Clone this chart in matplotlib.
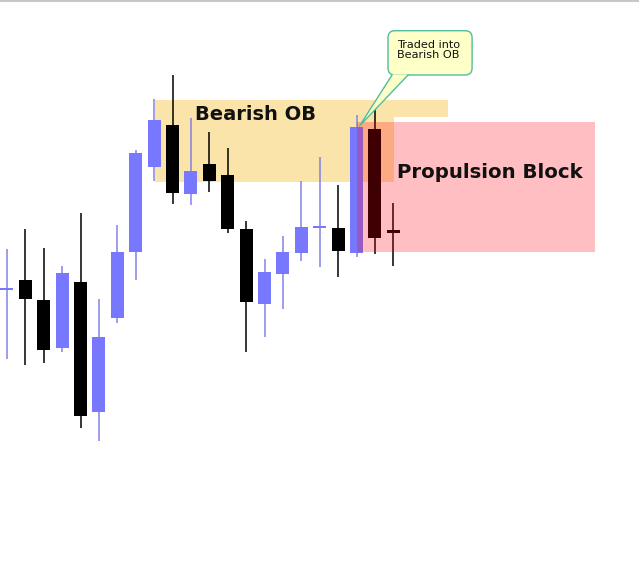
import matplotlib.pyplot as plt
from matplotlib.patches import Rectangle, FancyBboxPatch, Polygon

# candle data (price units), bar index = position
opens = [276, 286, 266, 218, 284, 154, 248, 314, 399, 441, 372, 402,
         391, 337, 262, 292, 313, 338, 338, 313, 437, 336]
highs = [317, 337, 318, 300, 353, 267, 341, 416, 467, 491, 448, 434,
         418, 345, 307, 330, 385, 409, 381, 451, 463, 363]
lows = [207, 201, 203, 214, 138, 125, 243, 286, 385, 362, 361, 374,
        333, 214, 229, 257, 305, 299, 289, 309, 312, 300]
closes = [277, 267, 216, 293, 150, 229, 314, 413, 446, 373, 395, 385,
          337, 264, 294, 314, 339, 340, 315, 439, 328, 333]

# zones: (x_start, x_end, price_low, price_high)
bearish_ob = (8.05, 21.04, 384, 466)
bearish_ob_top = (8.05, 23.96, 449, 466)
propulsion = (19.03, 31.96, 314, 444)

BULL = "#7878ff"
BULL_WICK = "#8282e6"
BEAR = "#000000"

fig = plt.figure(figsize=(6.39, 5.66), dpi=100)
ax = fig.add_axes([0, 0, 1, 1])
ax.set_xlim(-0.375, 34.35)
ax.set_ylim(0, 566)
ax.axis("off")

# thin grey line at the very top
fig.add_artist(plt.Line2D([0, 1], [0.999, 0.999], color="#c8c8c8", lw=1.5))

# bearish order block (behind candles)
for x0, x1, y0, y1 in (bearish_ob, bearish_ob_top):
    ax.add_patch(Rectangle((x0, y0), x1 - x0, y1 - y0, facecolor="#fae4aa",
                           edgecolor="none", zorder=1))

# candles
for i, (o, h, l, c) in enumerate(zip(opens, highs, lows, closes)):
    bull = c >= o
    body_col = BULL if bull else BEAR
    wick_col = BULL_WICK if bull else BEAR
    ax.vlines(i, l, h, color=wick_col, lw=1.1, zorder=2)
    lo, hi = min(o, c), max(o, c)
    ax.bar(i, max(hi - lo, 2), bottom=lo, width=0.7, color=body_col, zorder=2)

# propulsion block (translucent, on top of candles)
x0, x1, y0, y1 = propulsion
ax.add_patch(Rectangle((x0, y0), x1 - x0, y1 - y0, facecolor="#ff000c",
                       alpha=0.25, edgecolor="none", zorder=3))

ax.text(10.22, 451, "Bearish OB", fontsize=14, fontweight="bold",
        va="center", ha="left", color="#111111", zorder=4)
ax.text(21.18, 394, "Propulsion Block", fontsize=14.2, fontweight="bold",
        va="center", ha="left", color="#111111", zorder=4)

# callout
box = FancyBboxPatch((20.71, 491), 25.28 - 20.71, 535.3 - 491,
                     boxstyle="round,pad=0,rounding_size=0.38",
                     mutation_aspect=18.4, facecolor="#ffffc8",
                     edgecolor="#50be9c", lw=1.0, zorder=5)
ax.add_patch(box)
tail = [(20.93, 491.6), (21.8, 491.6), (19.16, 440)]
ax.add_patch(Polygon(tail, closed=True, facecolor="#ffffc8",
                     edgecolor="none", zorder=6))
ax.plot([20.93, 19.16, 21.8], [491, 440, 491], color="#50be9c",
        lw=1.0, zorder=6)
ax.text(21.22, 526.5, "Traded into\nBearish OB", fontsize=8.1, va="top",
        ha="left", linespacing=1.0, color="#111111", zorder=7)

fig.savefig("out.png", dpi=100)
